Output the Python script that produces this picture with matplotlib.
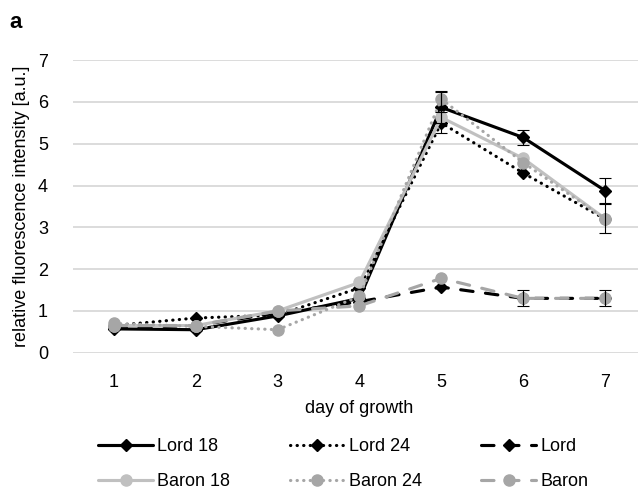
import matplotlib.pyplot as plt
import numpy as np

plt.rcParams['font.family'] = ['Liberation Sans', 'DejaVu Sans']

days = [1, 2, 3, 4, 5, 6, 7]

# series values
lord18 = [0.57, 0.55, 0.88, 1.30, 5.87, 5.15, 3.88]
lord24 = [0.65, 0.83, 0.90, 1.55, 5.50, 4.30, 3.20]
lord = [0.60, 0.65, 0.95, 1.22, 1.57, 1.30, 1.30]
baron18 = [0.65, 0.65, 1.00, 1.68, 5.63, 4.65, 3.21]
baron24 = [0.70, 0.63, 0.55, 1.35, 6.07, 4.55, 3.20]
baron = [0.65, 0.65, 1.00, 1.12, 1.78, 1.30, 1.30]

# error bars (0 = none shown)
err_lord18 = [0, 0, 0, 0, 0.37, 0.19, 0.30]
err_lord24 = [0, 0, 0, 0, 0.25, 0, 0]
err_baron18 = [0, 0, 0, 0, 0, 0, 0.35]
err_baron24 = [0, 0, 0, 0, 0.20, 0, 0]
err_baron = [0, 0, 0, 0, 0, 0.19, 0.19]

fig = plt.figure(figsize=(6.38, 4.9), dpi=100)
ax = fig.add_axes([0.1144, 0.2802, 0.898, 0.597])

dots = (0, (0.1, 2))
dashes = (0, (4, 4))

series = [
    ('Lord 18', lord18, err_lord18, 'black', '-', 'D', 6),
    ('Lord 24', lord24, err_lord24, 'black', dots, 'D', 6),
    ('Lord', lord, None, 'black', dashes, 'D', 6),
    ('Baron 18', baron18, err_baron18, '#c0c0c0', '-', 'o', 8),
    ('Baron 24', baron24, err_baron24, '#a6a6a6', dots, 'o', 8),
    ('Baron', baron, err_baron, '#a6a6a6', dashes, 'o', 8),
]

handles = {}
for name, vals, err, col, ls, mk, ms in series:
    ln, = ax.plot(days, vals, color=col, ls=ls, lw=2.25, marker=mk, ms=ms,
                  dash_capstyle='round', solid_capstyle='round', label=name, zorder=3)
    handles[name] = ln
    if err is not None:
        idx = [i for i, e in enumerate(err) if e > 0]
        ax.errorbar([days[i] for i in idx], [vals[i] for i in idx],
                    yerr=[err[i] for i in idx], fmt='none', ecolor='black',
                    elinewidth=0.8, capsize=4, capthick=0.8, zorder=4)

ax.set_xlim(0.5, 7.5)
ax.set_ylim(0, 7)
ax.set_xticks(days)
ax.set_yticks(range(0, 8))
ax.grid(axis='y', color='#d9d9d9', lw=1.3)
ax.set_axisbelow(True)
for s in ax.spines.values():
    s.set_visible(False)
ax.tick_params(length=0, labelsize=13)
ax.tick_params(axis='x', pad=15)
ax.tick_params(axis='y', pad=18)
ax.set_xlabel('day of growth', fontsize=13, labelpad=7)
ax.set_ylabel('relative fluorescence intensity [a.u.]', fontsize=13, labelpad=6)

order = ['Lord 18', 'Baron 18', 'Lord 24', 'Baron 24', 'Lord', 'Baron']
fig.legend([handles[k] for k in order], order, ncol=3, loc='center',
           bbox_to_anchor=(0.538, 0.053), frameon=False, fontsize=13,
           handlelength=3.05, handletextpad=0.22, columnspacing=3.3,
           labelspacing=1.0)

fig.text(0.015, 0.955, 'a', fontsize=16, fontweight='bold', va='center')

fig.savefig('out.png', dpi=100)
